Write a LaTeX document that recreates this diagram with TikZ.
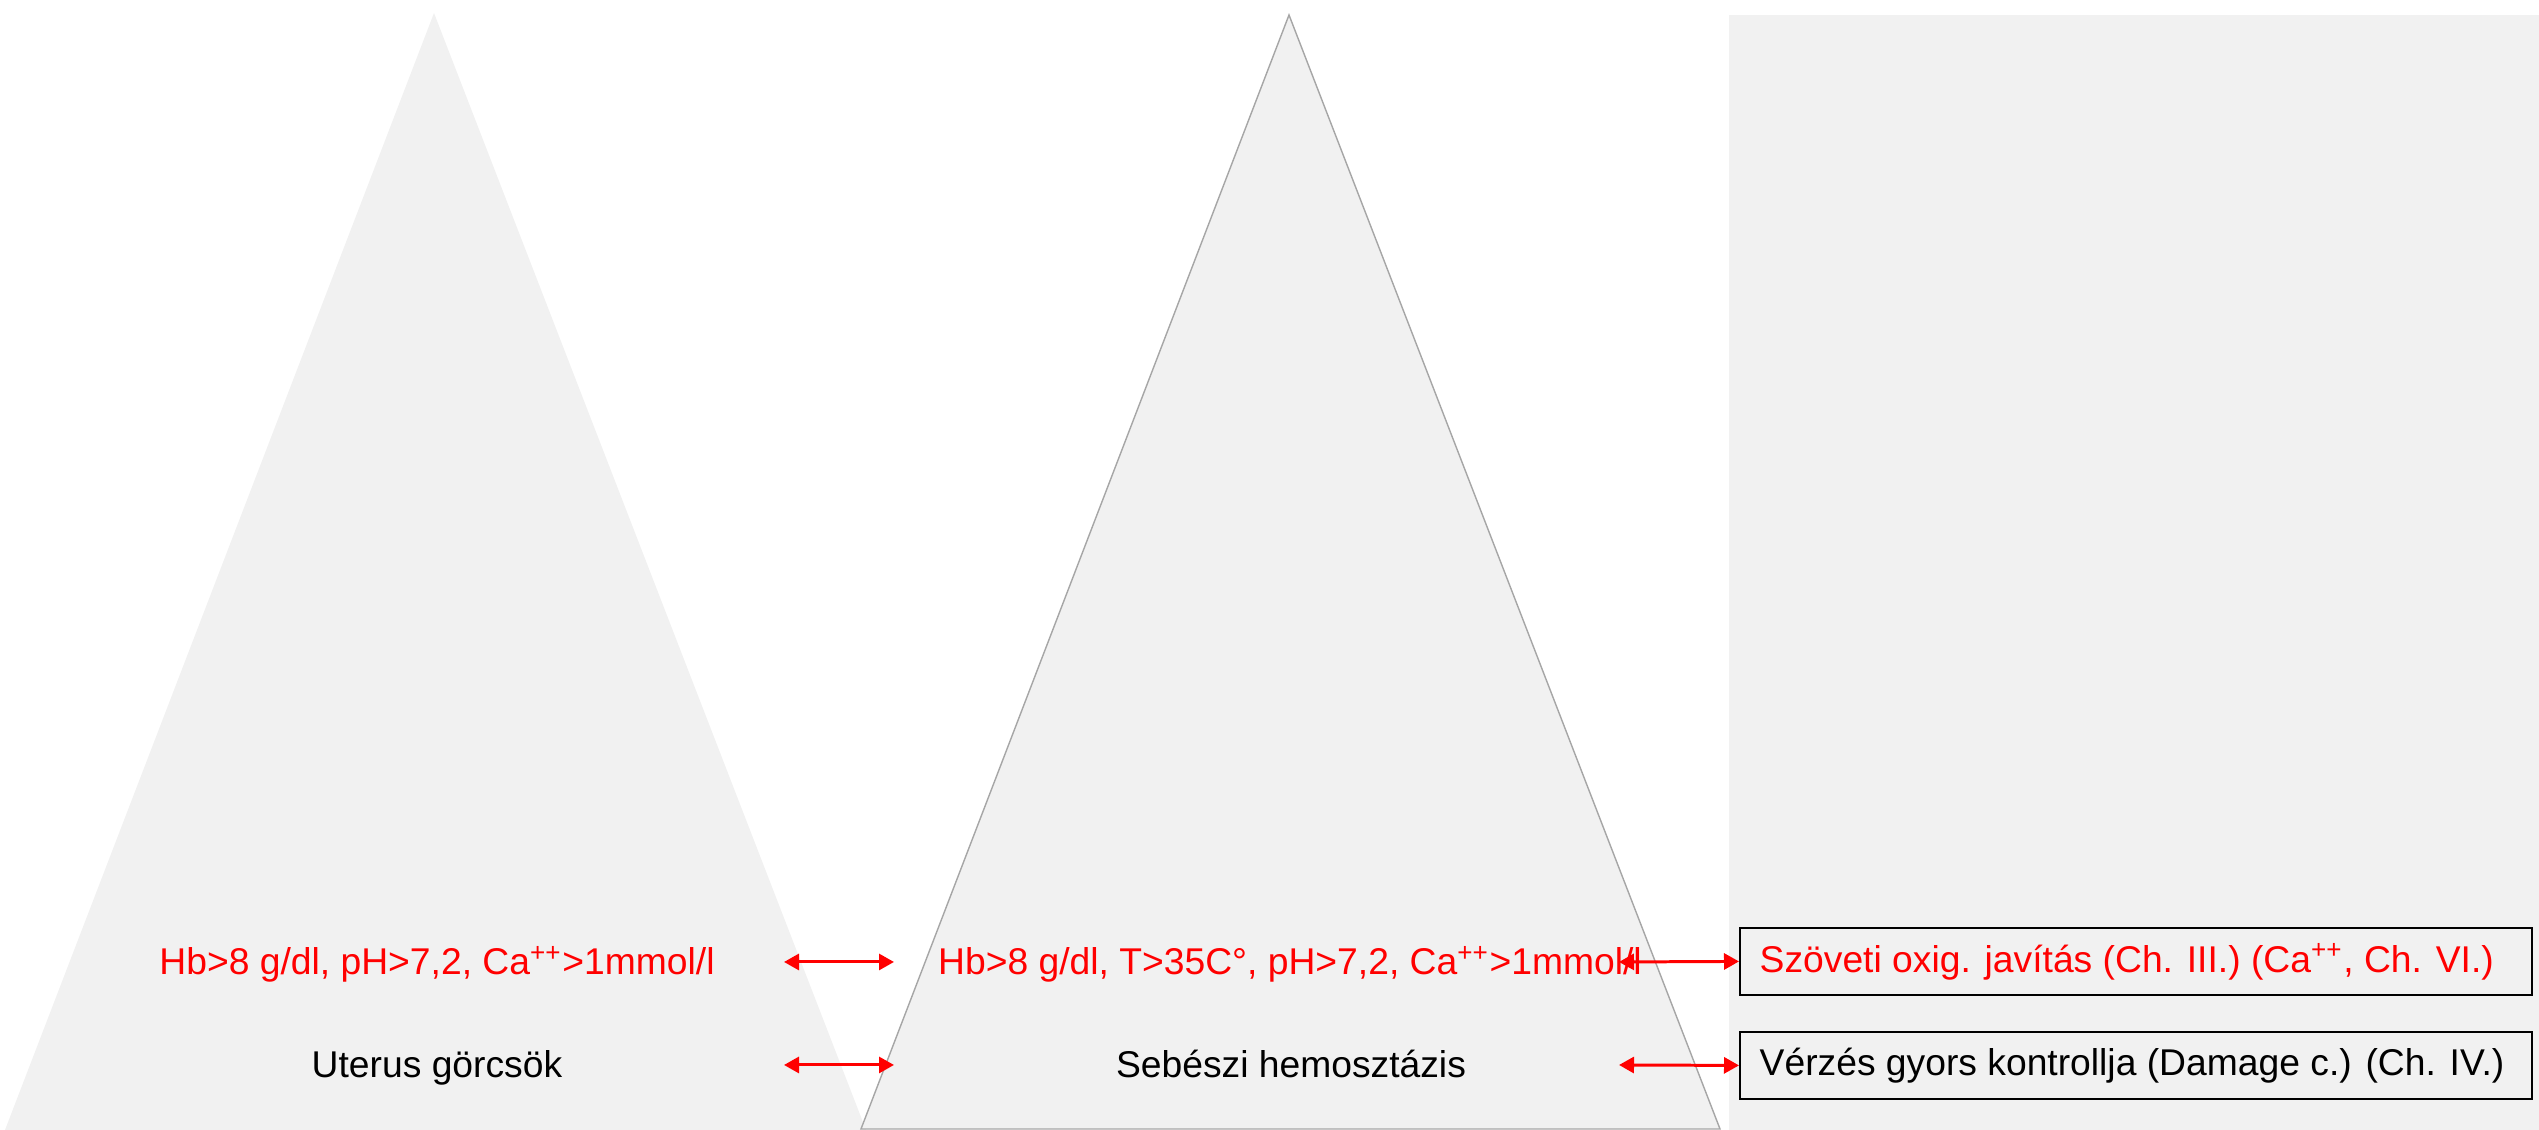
\documentclass[tikz,border=0pt]{standalone}
\usepackage{fontspec}
\setmainfont{Liberation Sans}
\usetikzlibrary{arrows.meta}

\definecolor{panelgray}{HTML}{F1F1F1}
\definecolor{edgegray}{HTML}{A6A6A6}

\tikzset{panel/.style={fill=panelgray,draw=none},
goal/.style={font=\fontsize{10.6}{12}\selectfont,text=red,anchor=base,inner sep=0.03cm},
action/.style={font=\fontsize{10.6}{12}\selectfont,text=black,anchor=base,inner sep=0.03cm},
chapter box/.style={draw=black,line width=0.6pt,fill=panelgray,minimum width=7.92cm,minimum height=0.67cm,anchor=south west},
chapter text/.style={font=\fontsize{10.6}{12}\selectfont,anchor=west,inner sep=0cm},
link/.style={red,line width=0.85pt,{Triangle[length=0.15cm,width=0.16cm]}-{Triangle[length=0.15cm,width=0.16cm]}}}

\begin{document}
\begin{tikzpicture}
\useasboundingbox (0,0) rectangle (25.39,11.30);

%% Coordinates of the panels.
\coordinate (t1top) at (4.34,11.17);
\coordinate (t1left) at (0.05,0.00);
\coordinate (t1right) at (8.66,0.00);
\coordinate (t2top) at (12.89,11.15);
\coordinate (t2left) at (8.61,0.01);
\coordinate (t2right) at (17.20,0.01);
\coordinate (r3sw) at (17.29,0.00);
\coordinate (r3ne) at (25.39,11.15);

%% panels
\fill [panel] (t1left) -- (t1top) -- (t1right) -- cycle;
\filldraw [panel,draw=edgegray,line width=0.4pt] (t2left) -- (t2top) -- (t2right) -- cycle;
\fill [panel] (r3sw) rectangle (r3ne);

%% level labels
\node [goal] (g1) at (4.37,1.55) {Hb>8 g/dl, pH>7,2, Ca\textsuperscript{++}>1mmol/l};
\node [action] (a1) at (4.37,0.52) {Uterus görcsök};
\node [goal] (g2) at (12.90,1.55) {Hb>8 g/dl, T>35C°, pH>7,2, Ca\textsuperscript{++}>1mmol/l};
\node [action] (a2) at (12.91,0.52) {Sebészi hemosztázis};

%% chapter boxes
\node [chapter box] (c1) at (17.39,1.34) {};
\node [chapter text,text=red] (c1t) at ([xshift=0.20cm]c1.west) {Szöveti oxig. javítás (Ch. III.) (Ca\textsuperscript{++}, Ch. VI.)};
\node [chapter box] (c2) at (17.39,0.30) {};
\node [chapter text,text=black] (c2t) at ([xshift=0.20cm]c2.west) {Vérzés gyors kontrollja (Damage c.) (Ch. IV.)};

%% arrow ends
\coordinate (l1a) at (7.84,1.68);
\coordinate (l1b) at (8.94,1.68);
\coordinate (l2a) at (7.84,0.65);
\coordinate (l2b) at (8.94,0.65);
\coordinate (r1a) at (16.19,1.68);
\coordinate (r2a) at (16.19,0.65);

%% double arrows
\draw [link] (l1a) -- (l1b);
\draw [link] (l2a) -- (l2b);
\draw [link] (r1a) -- (c1.west);
\draw [link] (r2a) -- (c2.west);

\end{tikzpicture}
\end{document}
